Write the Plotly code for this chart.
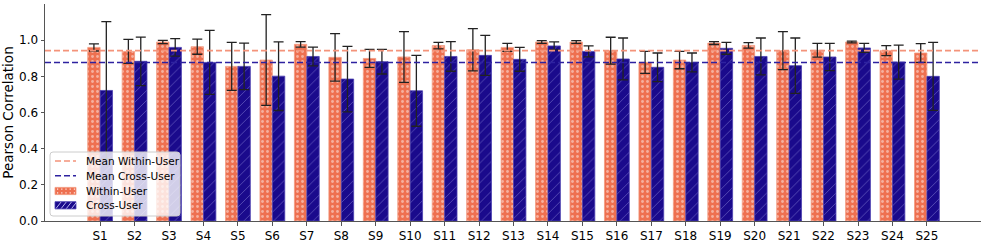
import plotly.graph_objects as go

subjects = [f"S{i}" for i in range(1, 26)]
within_mean = [0.960, 0.938, 0.990, 0.964, 0.855, 0.890, 0.977, 0.905, 0.899, 0.907,
               0.970, 0.947, 0.960, 0.990, 0.990, 0.942, 0.877, 0.890, 0.984, 0.971,
               0.942, 0.944, 0.990, 0.942, 0.929]
within_std = [0.020, 0.066, 0.009, 0.042, 0.133, 0.251, 0.015, 0.131, 0.050, 0.140,
              0.018, 0.117, 0.022, 0.008, 0.008, 0.074, 0.061, 0.048, 0.008, 0.015,
              0.105, 0.038, 0.005, 0.028, 0.052]
cross_mean = [0.722, 0.883, 0.960, 0.877, 0.855, 0.801, 0.910, 0.785, 0.881, 0.720,
              0.910, 0.916, 0.894, 0.968, 0.938, 0.896, 0.850, 0.877, 0.955, 0.910,
              0.859, 0.907, 0.957, 0.879, 0.800]
cross_std = [0.380, 0.134, 0.048, 0.177, 0.129, 0.190, 0.052, 0.181, 0.068, 0.196,
             0.082, 0.111, 0.066, 0.022, 0.030, 0.116, 0.079, 0.052, 0.033, 0.102,
             0.153, 0.075, 0.025, 0.094, 0.188]
y_ticks = [0.0, 0.2, 0.4, 0.6, 0.8, 1.0]
legend_labels = ["Mean Within-User", "Mean Cross-User", "Within-User", "Cross-User"]

idx = list(range(len(subjects)))
bw = 0.36
x_lo, x_hi = -1.6, 25.57
mw = sum(within_mean) / len(within_mean)
mc = sum(cross_mean) / len(cross_mean)

ORANGE = "#EE7050"
NAVY = "#1A0A8C"
MW_COLOR = "#F4937A"
MC_COLOR = "#2E22A0"
DASH = "6px,3px"
FONT = "DejaVu Sans"

W, H = 987, 243
ML, MR, MT, MB = 45, 6, 4, 22
PW, PH = W - ML - MR, H - MT - MB


def px(xpix):
    return (xpix - ML) / PW


def py(ypix):
    return (H - MB - ypix) / PH


fig = go.Figure()
fig.add_trace(go.Bar(
    x=[i - bw / 2 for i in idx], y=within_mean, width=bw, name="Within-User",
    marker=dict(color=ORANGE, line=dict(color="#F39A80", width=0.8),
                pattern=dict(shape=".", fgcolor="rgba(255,255,255,0.9)", bgcolor=ORANGE,
                             size=5, solidity=0.25, fillmode="overlay")),
    error_y=dict(type="data", array=within_std, visible=True, color="#222", thickness=1.3, width=5),
    showlegend=False,
))
fig.add_trace(go.Bar(
    x=[i + bw / 2 for i in idx], y=cross_mean, width=bw, name="Cross-User",
    marker=dict(color=NAVY, line=dict(color="#4a3fb0", width=0.8),
                pattern=dict(shape="/", fgcolor="rgba(200,200,255,0.75)", bgcolor=NAVY,
                             size=7, solidity=0.12, fillmode="overlay")),
    error_y=dict(type="data", array=cross_std, visible=True, color="#222", thickness=1.3, width=5),
    showlegend=False,
))
fig.add_trace(go.Scatter(
    x=[x_lo, x_hi], y=[mw, mw], mode="lines", name="Mean Within-User",
    line=dict(color=MW_COLOR, dash=DASH, width=1.6), showlegend=False,
))
fig.add_trace(go.Scatter(
    x=[x_lo, x_hi], y=[mc, mc], mode="lines", name="Mean Cross-User",
    line=dict(color=MC_COLOR, dash=DASH, width=1.6), showlegend=False,
))

# hand-made legend (matplotlib-like compact box)
shapes = []
bx0, bx1, by0, by1, r = 50, 180, 152, 216, 3
path = (f"M {px(bx0 + r)},{py(by0)} L {px(bx1 - r)},{py(by0)} "
        f"Q {px(bx1)},{py(by0)} {px(bx1)},{py(by0 + r)} L {px(bx1)},{py(by1 - r)} "
        f"Q {px(bx1)},{py(by1)} {px(bx1 - r)},{py(by1)} L {px(bx0 + r)},{py(by1)} "
        f"Q {px(bx0)},{py(by1)} {px(bx0)},{py(by1 - r)} L {px(bx0)},{py(by0 + r)} "
        f"Q {px(bx0)},{py(by0)} {px(bx0 + r)},{py(by0)} Z")
shapes.append(dict(type="path", xref="paper", yref="paper", path=path, layer="above",
                   fillcolor="rgba(255,255,255,0.8)", line=dict(color="#cccccc", width=1)))
row_y = [161, 175.7, 191, 205.3]
kx0, kx1 = 55, 76
shapes.append(dict(type="line", xref="paper", yref="paper", layer="above",
                   x0=px(kx0), x1=px(kx1), y0=py(row_y[0]), y1=py(row_y[0]),
                   line=dict(color=MW_COLOR, dash=DASH, width=1.6)))
shapes.append(dict(type="line", xref="paper", yref="paper", layer="above",
                   x0=px(kx0), x1=px(kx1), y0=py(row_y[1]), y1=py(row_y[1]),
                   line=dict(color=MC_COLOR, dash=DASH, width=1.6)))
shapes.append(dict(type="rect", xref="paper", yref="paper", layer="above",
                   x0=px(kx0), x1=px(kx1), y0=py(row_y[2] + 3.6), y1=py(row_y[2] - 3.6),
                   fillcolor=ORANGE, line=dict(color="#F39A80", width=0.8)))
shapes.append(dict(type="rect", xref="paper", yref="paper", layer="above",
                   x0=px(kx0), x1=px(kx1), y0=py(row_y[3] + 3.6), y1=py(row_y[3] - 3.6),
                   fillcolor=NAVY, line=dict(color="#4a3fb0", width=0.8)))
# white dots / hatch hints on legend patches
for k in range(5):
    xx = kx0 + 2 + k * 4.2
    for yy in (row_y[2] - 1.8, row_y[2] + 1.8):
        shapes.append(dict(type="rect", xref="paper", yref="paper", layer="above",
                           x0=px(xx), x1=px(xx + 1.2), y0=py(yy + 0.6), y1=py(yy - 0.6),
                           fillcolor="rgba(255,255,255,0.85)", line=dict(width=0)))
for k in range(4):
    xx = kx0 + 1 + k * 5.2
    shapes.append(dict(type="line", xref="paper", yref="paper", layer="above",
                       x0=px(xx), x1=px(xx + 5), y0=py(row_y[3] + 3.2), y1=py(row_y[3] - 3.2),
                       line=dict(color="rgba(210,210,255,0.85)", width=1)))

annotations = []
for lab, yy in zip(legend_labels, row_y):
    annotations.append(dict(text=lab, xref="paper", yref="paper", x=px(84), y=py(yy),
                            xanchor="left", yanchor="middle", showarrow=False,
                            font=dict(size=10.5, family=FONT, color="black")))

fig.update_layout(
    width=W, height=H,
    margin=dict(l=ML, r=MR, t=MT, b=MB, autoexpand=False),
    plot_bgcolor="white", paper_bgcolor="white",
    font=dict(family=FONT, size=12, color="black"),
    barmode="overlay",
    showlegend=False,
    shapes=shapes,
    annotations=annotations,
    xaxis=dict(range=[x_lo, x_hi], tickmode="array", tickvals=idx, ticktext=subjects,
               showgrid=False, zeroline=False, showline=True, linecolor="#555", linewidth=1,
               ticks="outside", ticklen=3.5, tickcolor="#555", tickfont=dict(size=12),
               automargin=False),
    yaxis=dict(range=[0, 1.2], tickmode="array", tickvals=y_ticks,
               ticktext=[f"{v:.1f}" for v in y_ticks],
               showgrid=False, zeroline=False, showline=True, linecolor="#555", linewidth=1,
               ticks="outside", ticklen=3.5, tickcolor="#555", tickfont=dict(size=12),
               automargin=False,
               title=dict(text="Pearson Correlation", font=dict(size=13.5), standoff=4)),
)

fig.write_html("out.html", config={"displayModeBar": False},
               post_script="document.body.style.margin='0';")
